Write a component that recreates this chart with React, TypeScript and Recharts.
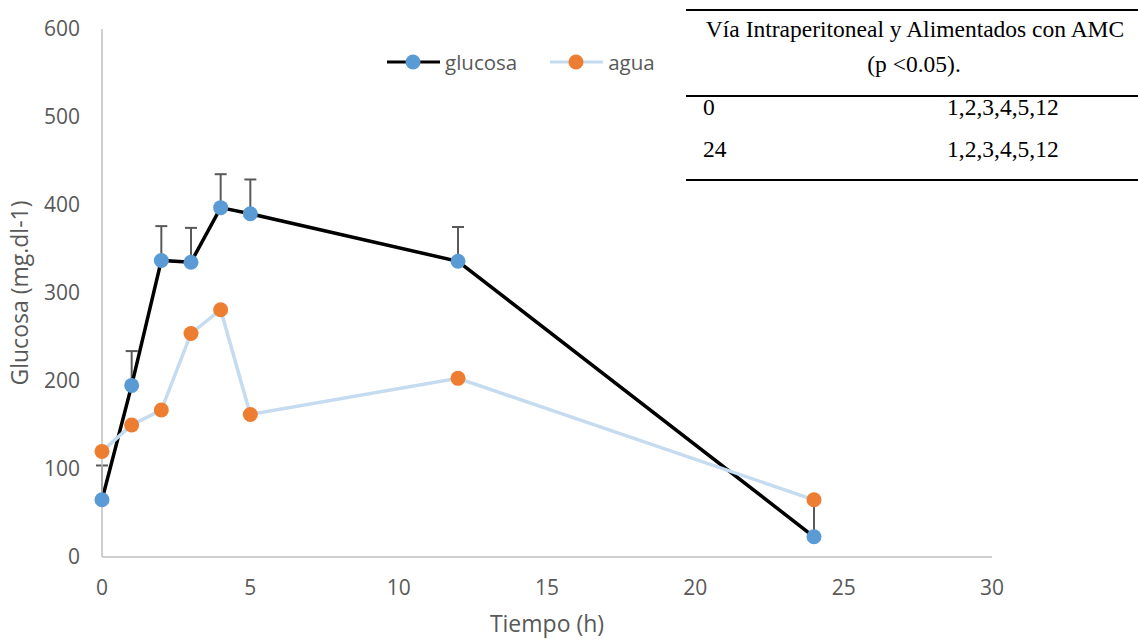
import { LineChart, Line, XAxis, YAxis, ErrorBar, Legend, Label } from "recharts"

const hours = [0, 1, 2, 3, 4, 5, 12, 24]
const glucosa = [65, 195, 337, 335, 397, 390, 336, 23]
const agua = [120, 150, 167, 254, 281, 162, 203, 65]
const glucosaErr = [39, 39, 39, 39, 38, 39, 39, 39]

const xTicks = [0, 5, 10, 15, 20, 25, 30]
const yTicks = [0, 100, 200, 300, 400, 500, 600]

const tableTitle = ["Vía Intraperitoneal y Alimentados con AMC", "(p <0.05)."]
const tableRows = [
  { hour: "0", sig: "1,2,3,4,5,12" },
  { hour: "24", sig: "1,2,3,4,5,12" },
]

const data = hours.map((h, i) => ({
  h,
  glucosa: glucosa[i],
  agua: agua[i],
  err: [0, glucosaErr[i]],
}))

const GREY = "#595959"
const AXIS = "#bfbfbf"
const BLUE_DOT = "#5b9bd5"
const ORANGE = "#ed7d31"
const LIGHT = "#c5dbef"
const FONT = "'Open Sans', sans-serif"

function LegendContent() {
  const items = [
    { name: "glucosa", line: "#000000", dot: BLUE_DOT },
    { name: "agua", line: LIGHT, dot: ORANGE },
  ]
  return (
    <div style={{ display: "flex", alignItems: "center", fontFamily: FONT, fontSize: 20.5, color: GREY }}>
      {items.map((it, i) => (
        <div key={it.name} style={{ display: "flex", alignItems: "center", marginRight: i === 0 ? 33 : 0 }}>
          <svg width={53} height={28}>
            <line x1={0} y1={14} x2={53} y2={14} stroke={it.line} strokeWidth={3} />
            <circle cx={26} cy={14} r={7.5} fill={it.dot} />
          </svg>
          <span style={{ marginLeft: 5, lineHeight: "28px" }}>{it.name}</span>
        </div>
      ))}
    </div>
  )
}

function SigTable() {
  return (
    <svg
      width={1138}
      height={639}
      style={{ position: "absolute", left: 0, top: 0, pointerEvents: "none" }}
    >
      <g fontFamily="'Liberation Serif', 'Times New Roman', serif" fontSize={23.5} fill="#000">
        <line x1={686} x2={1138} y1={10} y2={10} stroke="#000" strokeWidth={2} />
        <text x={915} y={37} textAnchor="middle">{tableTitle[0]}</text>
        <text x={914} y={72} textAnchor="middle">{tableTitle[1]}</text>
        <line x1={686} x2={1138} y1={96} y2={96} stroke="#000" strokeWidth={2} />
        {tableRows.map((r, i) => (
          <g key={r.hour}>
            <text x={703} y={115 + i * 42}>{r.hour}</text>
            <text x={947} y={115 + i * 42}>{r.sig}</text>
          </g>
        ))}
        <line x1={686} x2={1138} y1={180} y2={180} stroke="#000" strokeWidth={2} />
      </g>
    </svg>
  )
}

export default function App() {
  return (
    <div style={{ position: "absolute", left: 0, top: 0, width: 1138, height: 639, background: "#fff" }}>
      <LineChart width={1138} height={639} data={data} margin={{ top: 29, right: 146, bottom: 0, left: 0 }}>
        <XAxis
          dataKey="h"
          type="number"
          domain={[0, 30]}
          ticks={xTicks}
          height={82}
          tickLine={false}
          tickMargin={17}
          stroke={AXIS}
          strokeWidth={1.5}
          tick={{ fill: GREY, fontSize: 21, fontFamily: FONT }}
        >
          <Label
            value="Tiempo (h)"
            position="insideBottom"
            offset={7}
            style={{ fill: GREY, fontSize: 23, fontFamily: FONT }}
          />
        </XAxis>
        <YAxis
          type="number"
          domain={[0, 600]}
          ticks={yTicks}
          width={102}
          tickLine={false}
          tickMargin={16}
          stroke={AXIS}
          strokeWidth={1.5}
          tick={{ fill: GREY, fontSize: 21, fontFamily: FONT }}
        >
          <Label
            value="Glucosa (mg.dl-1)"
            angle={-90}
            position="center"
            dx={-31}
            style={{ fill: GREY, fontSize: 23, fontFamily: FONT, textAnchor: "middle" }}
          />
        </YAxis>
        <Legend
          layout="horizontal"
          verticalAlign="middle"
          align="center"
          wrapperStyle={{ top: 48, left: 387, width: 300 }}
          content={() => <LegendContent />}
        />
        <Line
          dataKey="glucosa"
          stroke="#000000"
          strokeWidth={3.5}
          dot={{ r: 7.5, fill: BLUE_DOT, stroke: BLUE_DOT, strokeWidth: 0 }}
          activeDot={false}
          isAnimationActive={false}
        >
          <ErrorBar dataKey="err" direction="y" width={6} stroke={GREY} strokeWidth={2} isAnimationActive={false} />
        </Line>
        <Line
          dataKey="agua"
          stroke={LIGHT}
          strokeWidth={3.5}
          dot={{ r: 7.5, fill: ORANGE, stroke: ORANGE, strokeWidth: 0 }}
          activeDot={false}
          isAnimationActive={false}
        />
      </LineChart>
      <SigTable />
    </div>
  )
}
